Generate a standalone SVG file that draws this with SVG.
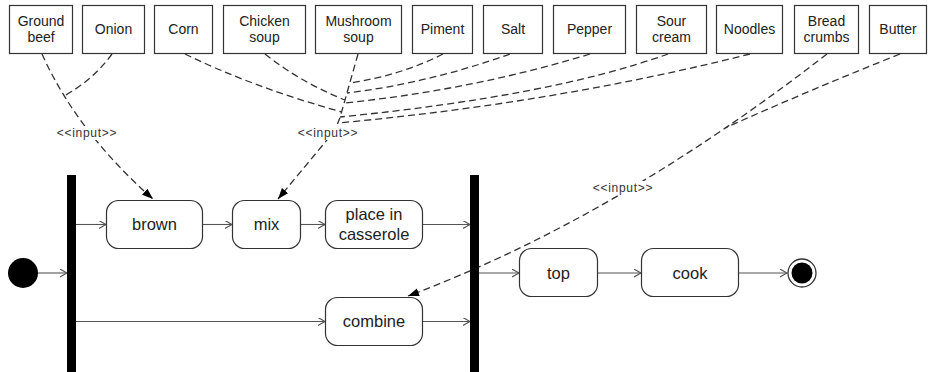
<svg xmlns="http://www.w3.org/2000/svg" width="928" height="372" viewBox="0 0 928 372">
<style>
.obj{fill:#fff;stroke:#333;stroke-width:1.2}
.act{fill:#fff;stroke:#333;stroke-width:1.2}
.t1{font-family:"Liberation Sans",Arial,sans-serif;font-size:14px;fill:#222;text-anchor:middle}
.t2{font-family:"Liberation Sans",Arial,sans-serif;font-size:16.5px;fill:#222;text-anchor:middle}
.lbl{font-family:"Liberation Sans",Arial,sans-serif;font-size:12px;fill:#333;text-anchor:middle;letter-spacing:0.7px}
.dash{fill:none;stroke:#333;stroke-width:1.3;stroke-dasharray:7,4}
.flow{fill:none;stroke:#555;stroke-width:1.1}
.bar{fill:#000}
</style>
<defs>
<marker id="fill" markerUnits="userSpaceOnUse" markerWidth="12" markerHeight="10" refX="11" refY="4" orient="auto">
<path d="M0,0 L11,4 L0,8 z" fill="#000"/>
</marker>
<marker id="open" markerUnits="userSpaceOnUse" markerWidth="10" markerHeight="10" refX="7" refY="4" orient="auto">
<path d="M0,0 L7,4 L0,8" fill="none" stroke="#555" stroke-width="1.1"/>
</marker>
</defs>
<g id="connectors">
<path class="dash" d="M42,54 Q77,132 153,199" marker-end="url(#fill)"/>
<path class="dash" d="M112,54 Q93,80 64,96"/>
<path class="dash" d="M358,54 L341,114 C337,128 332,134 322,146 L278,199" marker-end="url(#fill)"/>
<path class="dash" d="M185,54 Q255,88 342,112"/>
<path class="dash" d="M265,54 Q300,82 345,100"/>
<path class="dash" d="M443,54 Q402,75 350,83"/>
<path class="dash" d="M510,54 Q429,83 347,93"/>
<path class="dash" d="M590,54 Q472,90 344,103"/>
<path class="dash" d="M668,54 Q551,96 340,117"/>
<path class="dash" d="M750,54 Q555,103 338,123"/>
<path class="dash" d="M827,54 Q614,219 408,296" marker-end="url(#fill)"/>
<path class="dash" d="M900,54 Q810,90 725,128"/>
<rect x="57" y="126" width="61" height="14" fill="#fff"/>
<text class="lbl" x="87" y="137">&lt;&lt;input&gt;&gt;</text>
<rect x="298" y="126" width="61" height="14" fill="#fff"/>
<text class="lbl" x="328" y="137">&lt;&lt;input&gt;&gt;</text>
<rect x="593" y="181" width="61" height="14" fill="#fff"/>
<text class="lbl" x="623" y="192">&lt;&lt;input&gt;&gt;</text>
<line class="flow" x1="38" y1="273" x2="67" y2="273" marker-end="url(#open)"/>
<line class="flow" x1="76" y1="224.5" x2="106" y2="224.5" marker-end="url(#open)"/>
<line class="flow" x1="203" y1="224.5" x2="232" y2="224.5" marker-end="url(#open)"/>
<line class="flow" x1="301" y1="224.5" x2="325" y2="224.5" marker-end="url(#open)"/>
<line class="flow" x1="423" y1="224.5" x2="470" y2="224.5" marker-end="url(#open)"/>
<line class="flow" x1="76" y1="321.5" x2="325" y2="321.5" marker-end="url(#open)"/>
<line class="flow" x1="423" y1="321.5" x2="470" y2="321.5" marker-end="url(#open)"/>
<line class="flow" x1="479" y1="273" x2="519" y2="273" marker-end="url(#open)"/>
<line class="flow" x1="598" y1="273" x2="641" y2="273" marker-end="url(#open)"/>
<line class="flow" x1="739" y1="273" x2="787" y2="273" marker-end="url(#open)"/>
</g>
<g id="ground-beef"><rect class="obj" x="9.5" y="5.5" width="63" height="48"/><text class="t1" x="41" y="25.5">Ground</text><text class="t1" x="41" y="41.5">beef</text></g>
<g id="onion"><rect class="obj" x="82.5" y="5.5" width="62" height="48"/><text class="t1" x="113.5" y="34">Onion</text></g>
<g id="corn"><rect class="obj" x="154.5" y="5.5" width="58" height="48"/><text class="t1" x="183.5" y="34">Corn</text></g>
<g id="chicken-soup"><rect class="obj" x="223.5" y="5.5" width="82" height="48"/><text class="t1" x="264.5" y="25.5">Chicken</text><text class="t1" x="264.5" y="41.5">soup</text></g>
<g id="mushroom-soup"><rect class="obj" x="315.5" y="5.5" width="86" height="48"/><text class="t1" x="358.5" y="25.5">Mushroom</text><text class="t1" x="358.5" y="41.5">soup</text></g>
<g id="piment"><rect class="obj" x="412.5" y="5.5" width="60" height="48"/><text class="t1" x="442.5" y="34">Piment</text></g>
<g id="salt"><rect class="obj" x="483.5" y="5.5" width="59" height="48"/><text class="t1" x="513" y="34">Salt</text></g>
<g id="pepper"><rect class="obj" x="553.5" y="5.5" width="72" height="48"/><text class="t1" x="589.5" y="34">Pepper</text></g>
<g id="sour-cream"><rect class="obj" x="636.5" y="5.5" width="70" height="48"/><text class="t1" x="671.5" y="25.5">Sour</text><text class="t1" x="671.5" y="41.5">cream</text></g>
<g id="noodles"><rect class="obj" x="716.5" y="5.5" width="66" height="48"/><text class="t1" x="749.5" y="34">Noodles</text></g>
<g id="bread-crumbs"><rect class="obj" x="794.5" y="5.5" width="64" height="48"/><text class="t1" x="826.5" y="25.5">Bread</text><text class="t1" x="826.5" y="41.5">crumbs</text></g>
<g id="butter"><rect class="obj" x="869.5" y="5.5" width="57" height="48"/><text class="t1" x="898" y="34">Butter</text></g>
<g id="start"><circle cx="23" cy="273" r="15" fill="#000"/></g>
<g id="fork"><rect class="bar" x="67" y="175" width="9" height="197"/></g>
<g id="join"><rect class="bar" x="470" y="175" width="9" height="197"/></g>
<g id="brown"><rect class="act" x="106.5" y="200.5" width="96" height="48" rx="12"/><text class="t2" x="154.5" y="230">brown</text></g>
<g id="mix"><rect class="act" x="232.5" y="200.5" width="68" height="48" rx="12"/><text class="t2" x="266.5" y="230">mix</text></g>
<g id="place-in-casserole"><rect class="act" x="325.5" y="200.5" width="97" height="48" rx="12"/><text class="t2" x="374" y="220">place in</text><text class="t2" x="374" y="240">casserole</text></g>
<g id="combine"><rect class="act" x="325.5" y="297.5" width="97" height="48" rx="12"/><text class="t2" x="374" y="327">combine</text></g>
<g id="top"><rect class="act" x="519.5" y="248.5" width="78" height="48" rx="12"/><text class="t2" x="558.5" y="278.5">top</text></g>
<g id="cook"><rect class="act" x="641.5" y="248.5" width="97" height="48" rx="12"/><text class="t2" x="690" y="278.5">cook</text></g>
<g id="end"><circle cx="802" cy="273" r="14" fill="#fff" stroke="#333" stroke-width="1.3"/><circle cx="802" cy="273" r="10.5" fill="#000"/></g>
</svg>
